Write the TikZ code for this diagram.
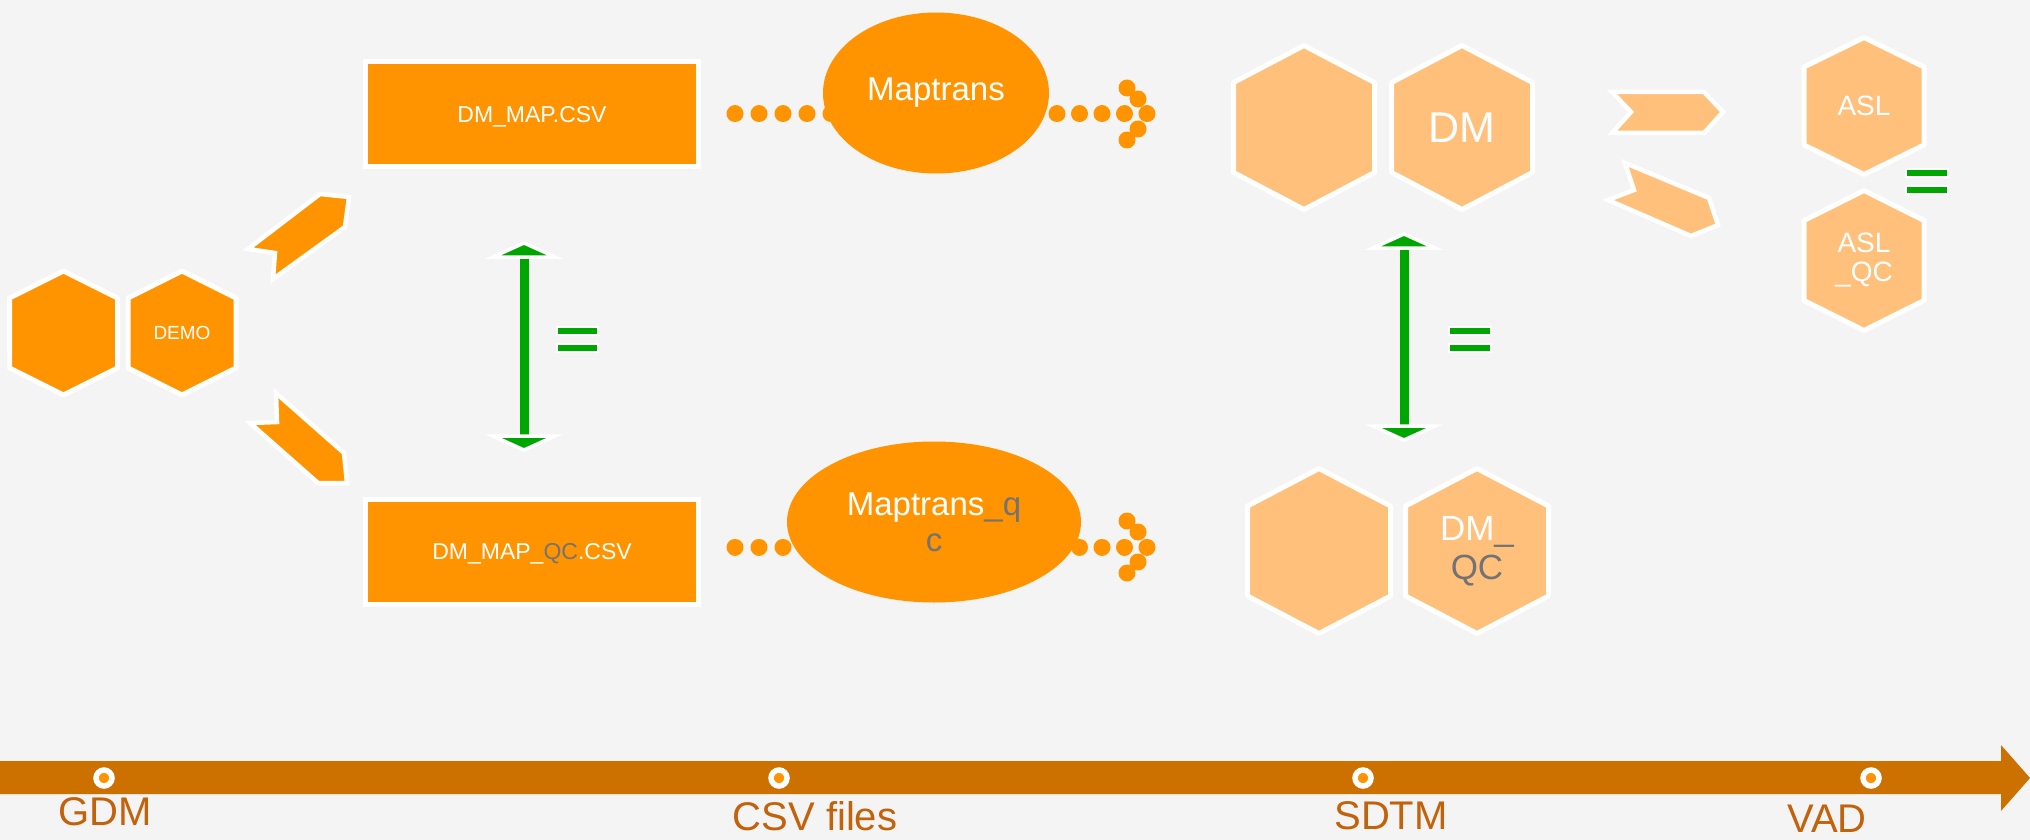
\documentclass[tikz,border=0pt]{standalone}
\usepackage{fontspec}
\setmainfont{Liberation Sans}
\usetikzlibrary{shapes.geometric}
\definecolor{bgc}{HTML}{F4F4F4}
\definecolor{org}{HTML}{FF9400}
\definecolor{lorg}{HTML}{FFC07C}
\definecolor{eqg}{HTML}{00A600}
\definecolor{tband}{HTML}{CC7000}
\definecolor{tlabc}{HTML}{C2620A}
\definecolor{gtxt}{HTML}{737373}
\pgfdeclarelayer{bg}\pgfdeclarelayer{conn}\pgfsetlayers{bg,conn,main}
\newcommand{\fsz}[2]{\fontsize{#1}{#2}\selectfont}
% #1 path style, #2 name, #3 x, #4 y, #5 half width, #6 half height, #7 half side, #8 font, #9 text
\newcommand{\hexnode}[9]{%
  \path[#1] (#3,#4-#6) -- (#3+#5,#4-#7) -- (#3+#5,#4+#7) -- (#3,#4+#6) -- (#3-#5,#4+#7) -- (#3-#5,#4-#7) -- cycle;
  \node[hextext, font=#8, minimum width=2*#5, minimum height=2*#6] (#2) at (#3,#4) {#9};}
\begin{document}
\begin{tikzpicture}[x=1pt,y=-1pt,
  hexd/.style={fill=org, draw=white, line width=5pt, line join=round},
  hexl/.style={hexd, fill=lorg},
  hextext/.style={text=white, align=center, inner sep=0pt, outer sep=0pt},
  csvbox/.style={rectangle, fill=org, draw=white, line width=5pt, minimum width=333pt, minimum height=105pt, inner sep=0pt, outer sep=0pt, text=white, text depth=0pt, font=\fsz{23}{27}},
  mapell/.style={ellipse, fill=org, inner sep=0pt, outer sep=0pt, minimum height=161pt, text=white, font=\fsz{33}{36}, align=center},
  chev/.style={fill=org, draw=white, line width=4.5pt, line join=miter},
  dotsA/.style={draw=org, line width=17pt, line cap=round, dash pattern=on 0.01pt off 23.99pt},
  dotsB/.style={draw=org, line width=17pt, line cap=round, dash pattern=on 0.01pt off 22.49pt},
  eqshaft/.style={draw=eqg, line width=9pt, shorten <=13pt, shorten >=13pt},
  eqhead/.style={fill=eqg, draw=white, line width=3.5pt, line join=miter, miter limit=10},
  eqbar/.style={fill=eqg, draw=white, line width=2pt},
  tlmark/.style={circle, fill=org, draw=white, line width=5.5pt, minimum size=16pt, inner sep=0pt},
  tlab/.style={text=tlabc, font=\fsz{40}{44}, anchor=base, inner sep=0pt}
]
\begin{pgfonlayer}{bg}
\fill[bgc] (0,0) rectangle (2030,840);
\end{pgfonlayer}
\useasboundingbox (0,0) rectangle (2030,840);

% left hexagons and chevrons
\hexnode{hexd}{g1}{63.5}{333}{54}{62}{35}{\fsz{19}{22}}{}
\hexnode{hexd}{g2}{182}{333}{54}{62}{35}{\fsz{19}{22}}{DEMO}
\path[chev] (248,249) -- (320,194) -- (349,197) -- (345,227) -- (273,279) -- (275,253) -- cycle;
\path[chev] (250,423) -- (277,422) -- (276,393) -- (344,453) -- (347,483) -- (318,483) -- cycle;

% csv boxes
\node[csvbox] (r1) at (532,114) {DM\_MAP.CSV};
\node[csvbox] (r2) at (532,551.5) {DM\_MAP\_\textcolor{gtxt}{QC}.CSV};

% ellipses
\node[mapell, minimum width=226pt] (e1) at (936,93) {Maptrans};
\node[mapell, minimum width=294pt] (e2) at (934,522) {Maptrans\textcolor{gtxt}{\_q}\\\textcolor{gtxt}{c}};

% SDTM hexagons
\hexnode{hexl}{s1}{1304}{127.5}{70.5}{82}{45}{\fsz{43}{48}}{}
\hexnode{hexl}{s2}{1462}{127.5}{70.5}{82}{45}{\fsz{43}{48}}{DM}
\hexnode{hexl}{s3}{1319}{551}{71.5}{82.5}{45}{\fsz{35}{39}}{}
\hexnode{hexl}{s4}{1477}{551}{71.5}{82.5}{45}{\fsz{35}{39}}{DM\textcolor{gtxt}{\_}\\\textcolor{gtxt}{QC}}

% right chevrons and analysis hexagons
\path[chev, fill=lorg] (1612,92) -- (1704,92) -- (1723,112) -- (1704,133) -- (1612,133) -- (1631,112) -- cycle;
\path[chev, fill=lorg] (1625,163) -- (1709,198) -- (1718,225) -- (1691,236) -- (1608,200) -- (1634,190) -- cycle;
\hexnode{hexl}{v1}{1864}{106}{60}{68.5}{39}{\fsz{28}{29}}{ASL}
\hexnode{hexl}{v2}{1864}{260.5}{60}{70}{40}{\fsz{28}{29}}{ASL\\\_QC}

% dotted connectors
\coordinate (t1) at (1147,114);
\coordinate (t2) at (1147,547);
\begin{pgfonlayer}{conn}
\draw[dotsA, shorten <=36.5pt] (r1.east) -- (e1.center |- r1.east);
\draw[dotsA, shorten <=36.5pt] ([yshift=4.5pt]r2.east) -- (e2.center |- t2);
\draw[dotsB] (t1) -- (e1.center |- t1);
\draw[dotsB] (t2) -- (e2.center |- t2);
\end{pgfonlayer}
\foreach \p in {t1,t2}
  \foreach \dx/\dy in {-20/-26,-9/-15,-9/15,-20/26}
    \fill[org] ([shift={(\dx,\dy)}]\p) circle[radius=8.5pt];

% green equality arrows
\coordinate (ga1) at (524,243);
\coordinate (ga2) at (524,450);
\coordinate (gb1) at (1404,234);
\coordinate (gb2) at (1404,440);
\draw[eqshaft] (ga1) -- (ga2);
\draw[eqshaft] (gb1) -- (gb2);
\path[eqhead] (ga1) -- ++(31,14) -- ++(-62,0) -- cycle;
\path[eqhead] (ga2) -- ++(31,-14) -- ++(-62,0) -- cycle;
\path[eqhead] (gb1) -- ++(31,14) -- ++(-62,0) -- cycle;
\path[eqhead] (gb2) -- ++(31,-14) -- ++(-62,0) -- cycle;
\path[eqbar] (557,327) rectangle (598,335);
\path[eqbar] (557,343.5) rectangle (598,351.5);
\path[eqbar] (1449,327) rectangle (1491,335);
\path[eqbar] (1449,343.5) rectangle (1491,351.5);
\path[eqbar] (1906,169) rectangle (1948,177);
\path[eqbar] (1906,186) rectangle (1948,194);

% timeline
\fill[tband] (0,761) -- (2001,761) -- (2001,745) -- (2030,778) -- (2001,811) -- (2001,794) -- (0,794) -- cycle;
\node[tlmark] (m1) at (104,778) {};
\node[tlmark] (m2) at (779,778) {};
\node[tlmark] (m3) at (1363,778) {};
\node[tlmark] (m4) at (1871,778) {};
\node[tlab] (l1) at (105,825) {GDM};
\node[tlab] (l2) at (815,830) {CSV files};
\node[tlab] (l3) at (1391,829) {SDTM};
\node[tlab] (l4) at (1827,832) {VAD};
\end{tikzpicture}
\end{document}
